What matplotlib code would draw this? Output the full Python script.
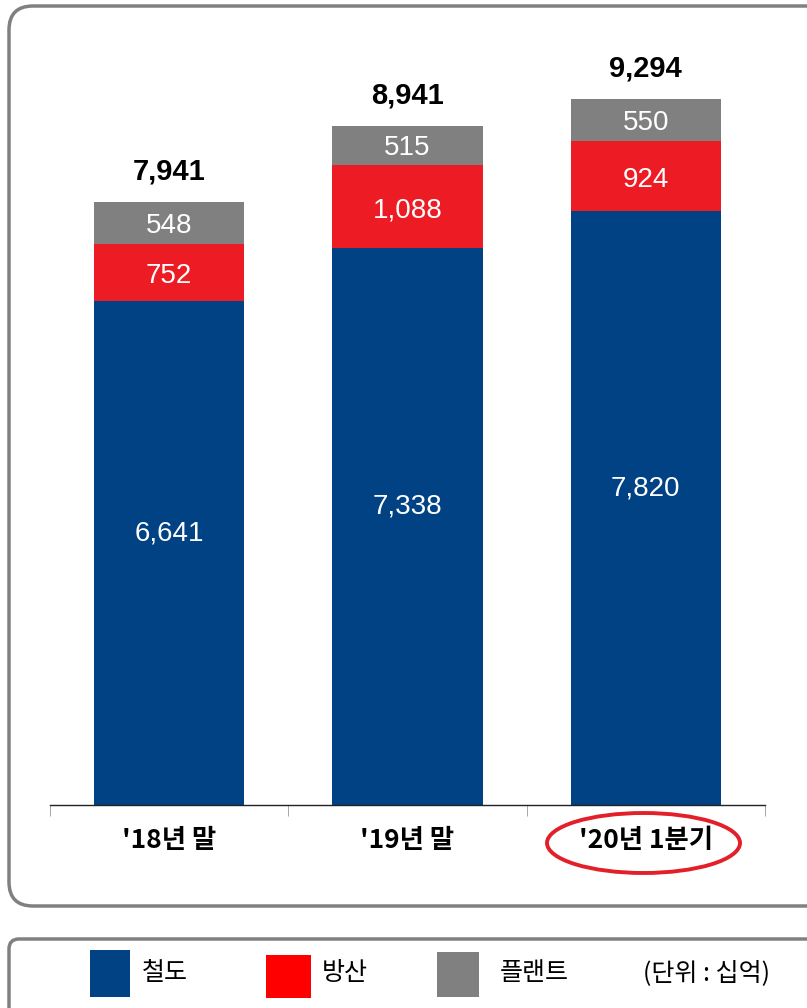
import matplotlib.pyplot as plt
from matplotlib.patches import FancyBboxPatch, Ellipse, Rectangle

categories = ["'18년 말", "'19년 말", "'20년 1분기"]
railway = [6641, 7338, 7820]     # 철도
defense = [752, 1088, 924]       # 방산
plant = [548, 515, 550]          # 플랜트
totals = [7941, 8941, 9294]

series_names = ['철도', '방산', '플랜트']
bar_colors = ['#004283', '#ED1C24', '#808080']
legend_colors = ['#004283', '#FF0000', '#808080']
unit_text = '(단위 : 십억)'

W, H = 807, 1008
fig = plt.figure(figsize=(W / 100, H / 100), dpi=100)

# overlay in pixel coords for frames, legend, ellipse
ov = fig.add_axes([0, 0, 1, 1], zorder=0)
ov.set_xlim(0, W)
ov.set_ylim(H, 0)
ov.axis('off')
ov.add_patch(FancyBboxPatch((9, 6), 830, 900, boxstyle='round,pad=0,rounding_size=24',
                            fc='white', ec='#808080', lw=2.5))
ov.add_patch(FancyBboxPatch((9, 939), 830, 120, boxstyle='round,pad=0,rounding_size=10',
                            fc='white', ec='#808080', lw=2.5))

# bar axes
ax = fig.add_axes([50 / W, (H - 805) / H, 715 / W, 785 / H], zorder=1)
ax.patch.set_alpha(0)
x = list(range(len(categories)))
width = 0.63
bottom2 = [a + b for a, b in zip(railway, defense)]
ax.bar(x, railway, width=width, color=bar_colors[0], zorder=2)
ax.bar(x, defense, width=width, bottom=railway, color=bar_colors[1], zorder=2)
ax.bar(x, plant, width=width, bottom=bottom2, color=bar_colors[2], zorder=2)
ax.set_xlim(-0.5, 2.5)
ax.set_ylim(0, 785 / (603 / 7941))

num_font = 'Liberation Sans'
for i in x:
    ax.annotate(f'{railway[i]:,}', (i, railway[i] / 2), xytext=(0, 14), textcoords='offset points',
                ha='center', va='center', color='white', fontsize=20, family=num_font)
    ax.annotate(f'{defense[i]:,}', (i, railway[i] + defense[i] / 2), xytext=(0, -3),
                textcoords='offset points', ha='center', va='center',
                color='white', fontsize=20, family=num_font)
    ax.annotate(f'{plant[i]:,}', (i, bottom2[i] + plant[i] / 2), xytext=(0, -2),
                textcoords='offset points', ha='center', va='center',
                color='white', fontsize=20, family=num_font)
    ax.annotate(f'{totals[i]:,}', (i, totals[i]), xytext=(0, 22), textcoords='offset points',
                ha='center', va='center', color='black', fontsize=21, fontweight='bold',
                family=num_font)

for s in ['top', 'left', 'right']:
    ax.spines[s].set_visible(False)
ax.spines['bottom'].set_color('#222222')
ax.spines['bottom'].set_linewidth(1)
ax.set_yticks([])
ax.set_xticks(x)
ax.set_xticklabels(categories, fontsize=19, fontweight='bold', family=['Noto Sans CJK KR', 'DejaVu Sans'])
ax.tick_params(axis='x', which='major', length=0, pad=16)
ax.set_xticks([-0.5, 0.5, 1.5, 2.5], minor=True)
ax.tick_params(axis='x', which='minor', length=8, color='#999999', direction='out')

# highlight ellipse
ov.add_patch(Ellipse((643.5, 843), 193, 60, fill=False, ec='#E3202A', lw=2.8))

# legend
kr = ['Noto Sans CJK KR', 'DejaVu Sans']
boxes = [(90, 950, 40, 47), (266, 955, 45, 43), (437, 952, 42, 45)]
text_x = [142, 322, 500]
for (bx, by, bw, bh), c, name, tx in zip(boxes, legend_colors, series_names, text_x):
    ov.add_patch(Rectangle((bx, by), bw, bh, fc=c, ec='none'))
    ov.text(tx, 973, name, ha='left', va='center', fontsize=18, family=kr)
ov.text(643, 973, unit_text, ha='left', va='center', fontsize=18, family=kr)

fig.savefig('out.png', dpi=100)
